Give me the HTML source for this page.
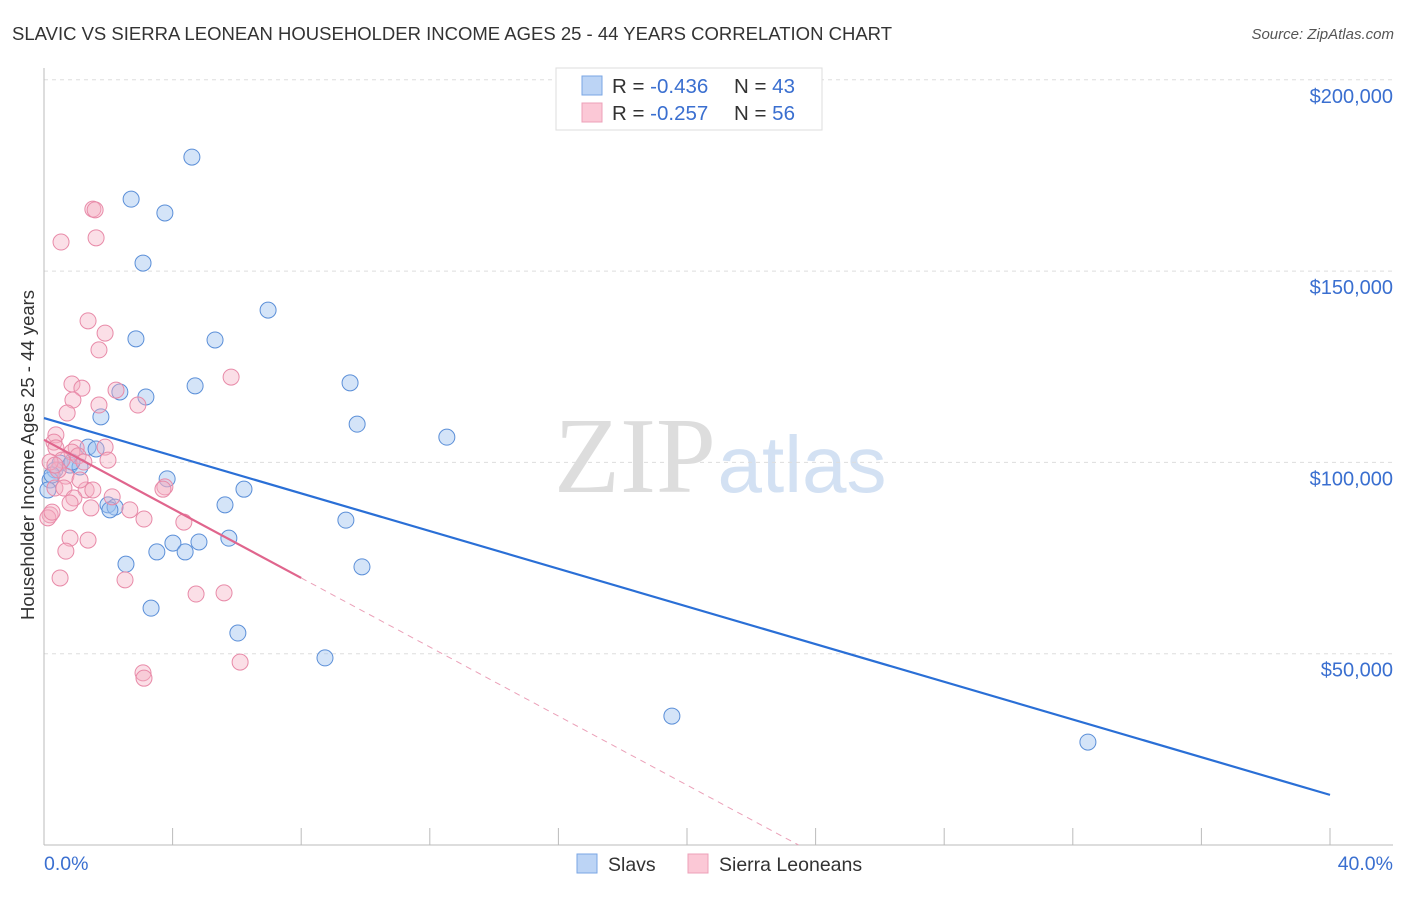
<!DOCTYPE html>
<html><head><meta charset="utf-8"><style>
body{margin:0;background:#fff;font-family:"Liberation Sans",sans-serif}
svg text{font-family:"Liberation Sans",sans-serif}
</style></head><body>
<svg id="c" width="1406" height="892" xmlns="http://www.w3.org/2000/svg">
<text x="12" y="40" font-size="18.5" fill="#333" textLength="880">SLAVIC VS SIERRA LEONEAN HOUSEHOLDER INCOME AGES 25 - 44 YEARS CORRELATION CHART</text>
<text x="1394" y="39" font-size="15" fill="#555" text-anchor="end" font-style="italic">Source: ZipAtlas.com</text>
<text x="635" y="492" font-size="108" fill="#ddd" text-anchor="middle" font-family="Liberation Serif" style="font-family:'Liberation Serif',serif">ZIP</text>
<text x="802" y="492" font-size="80" fill="#d3e1f3" text-anchor="middle">atlas</text>
<g id="grid"></g><g id="axes"></g><g id="pts"></g><g id="lines"></g>
<text transform="translate(34,455) rotate(-90)" font-size="18.5" fill="#333" text-anchor="middle">Householder Income Ages 25 - 44 years</text>
<text x="44" y="870" font-size="19.5" fill="#3a6fd0">0.0%</text>
<text x="1393" y="870" font-size="19.5" fill="#3a6fd0" text-anchor="end">40.0%</text>
<g>
<rect x="556" y="68" width="266" height="62" fill="#fff" stroke="#ddd"/>
<rect x="582" y="76" width="20" height="19" fill="#bcd4f5" stroke="#7aa6e4"/>
<rect x="582" y="103" width="20" height="19" fill="#fbc8d6" stroke="#eda0b8"/>
<text x="612" y="93" font-size="20.5" fill="#333">R = <tspan fill="#3a6fd0">-0.436</tspan><tspan x="734">N = </tspan><tspan fill="#3a6fd0">43</tspan></text>
<text x="612" y="120" font-size="20.5" fill="#333">R = <tspan fill="#3a6fd0">-0.257</tspan><tspan x="734">N = </tspan><tspan fill="#3a6fd0">56</tspan></text>
</g>
<g>
<rect x="577" y="854" width="20" height="19" fill="#bcd4f5" stroke="#7aa6e4"/>
<text x="608" y="871" font-size="19.5" fill="#333">Slavs</text>
<rect x="688" y="854" width="20" height="19" fill="#fbc8d6" stroke="#eda0b8"/>
<text x="719" y="871" font-size="19.5" fill="#333">Sierra Leoneans</text>
</g>
</svg>
<script>
const yTicks=[50,100,150,200];
const yTickLabels=["$50,000","$100,000","$150,000","$200,000"];
const slavX=[4.60,2.71,3.76,3.08,6.97,2.86,5.32,9.52,4.70,3.17,2.36,9.74,12.53,1.77,1.37,1.62,0.50,0.81,1.12,0.34,0.19,3.83,6.22,1.99,2.21,2.05,5.63,9.39,5.75,4.01,4.82,3.51,4.39,2.55,9.89,3.33,6.03,8.74,19.53,32.47,0.87,0.25,0.12];
const slavY=[179.8,168.8,165.2,152.1,139.8,132.3,132.0,120.8,120.0,117.1,118.4,110.0,106.6,111.9,104.0,103.5,99.8,99.3,98.8,98.0,95.4,95.7,93.0,88.9,88.3,87.6,88.9,84.9,80.2,78.9,79.2,76.6,76.6,73.4,72.7,61.9,55.4,48.9,33.7,26.9,100.1,96.7,92.8];
const sierraX=[1.52,1.59,0.53,1.62,1.37,1.90,1.71,5.82,0.87,1.18,2.24,0.90,2.92,1.71,0.72,0.37,0.31,0.37,1.90,1.00,0.87,1.06,0.56,0.68,0.34,0.62,1.31,1.52,2.12,3.76,3.70,0.93,0.81,1.46,2.67,3.11,4.35,0.19,0.12,0.25,1.37,0.81,0.68,0.50,2.52,4.73,5.60,6.10,3.08,3.11,0.44,0.19,0.34,1.12,1.24,1.99];
const sierraY=[166.2,166.0,157.6,158.7,137.0,133.8,129.4,122.3,120.5,119.4,118.9,116.3,115.0,115.0,112.9,107.2,105.3,103.8,104.0,103.8,102.7,101.7,100.6,96.4,93.3,93.3,92.8,92.8,91.0,93.6,93.0,90.7,89.4,88.1,87.6,85.2,84.4,86.3,85.5,87.0,79.7,80.2,76.8,69.8,69.3,65.6,65.9,47.8,45.0,43.6,98.0,100.1,99.3,95.4,100.1,100.6];
const slavTrend=[111.6,13.1];   // y at x=0 and x=40
const sierraTrend=[105.9,69.8]; // y at x=0 and x=8 (solid end)
const NS="http://www.w3.org/2000/svg";
const X=v=>44+v/40*1286, Y=v=>845-v/50*191.3;
function mk(p,t,a){const e=document.createElementNS(NS,t);for(const k in a)e.setAttribute(k,a[k]);document.getElementById(p).appendChild(e);return e;}
yTicks.forEach((t,i)=>{
 const g=mk('grid','line',{x1:44,x2:1393,y1:Y(t),y2:Y(t),stroke:'#ddd','stroke-dasharray':'4,4'});
 
 
 const l=mk('grid','text',{x:1393,y:Y(t)+23,'font-size':20,fill:'#3a6fd0','text-anchor':'end'});
 l.textContent=yTickLabels[i];
 
 
});
const ya=mk('axes','line',{x1:44,x2:44,y1:68,y2:845,stroke:'#bbb'});


const xa=mk('axes','line',{x1:44,x2:1393,y1:845,y2:845,stroke:'#bbb'});


for(let i=0;i<=10;i++){
 const t=mk('axes','line',{x1:X(i*4),x2:X(i*4),y1:828,y2:845,stroke:'#bbb'});
 
 
}
slavX.forEach((x,i)=>{
 const c=mk('pts','circle',{cx:X(x),cy:Y(slavY[i]),r:8,fill:'rgba(160,196,240,0.45)',stroke:'#5b8fd8','stroke-width':1});
 
 
});
sierraX.forEach((x,i)=>{
 const c=mk('pts','circle',{cx:X(x),cy:Y(sierraY[i]),r:8,fill:'rgba(245,176,196,0.4)',stroke:'#e88aa8','stroke-width':1});
 
 
});
const bl=mk('lines','line',{x1:X(0),y1:Y(slavTrend[0]),x2:X(40),y2:Y(slavTrend[1]),stroke:'#2a6fd6','stroke-width':2.2});


const s=(sierraTrend[1]-sierraTrend[0])/8, x0=-sierraTrend[0]/s;
const pl=mk('lines','line',{x1:X(0),y1:Y(sierraTrend[0]),x2:X(8),y2:Y(sierraTrend[1]),stroke:'#e0658d','stroke-width':2.2});


const pd=mk('lines','line',{x1:X(8),y1:Y(sierraTrend[1]),x2:X(x0),y2:Y(0),stroke:'#eba0b8','stroke-width':1,'stroke-dasharray':'6,5'});


</script>
</body></html>
